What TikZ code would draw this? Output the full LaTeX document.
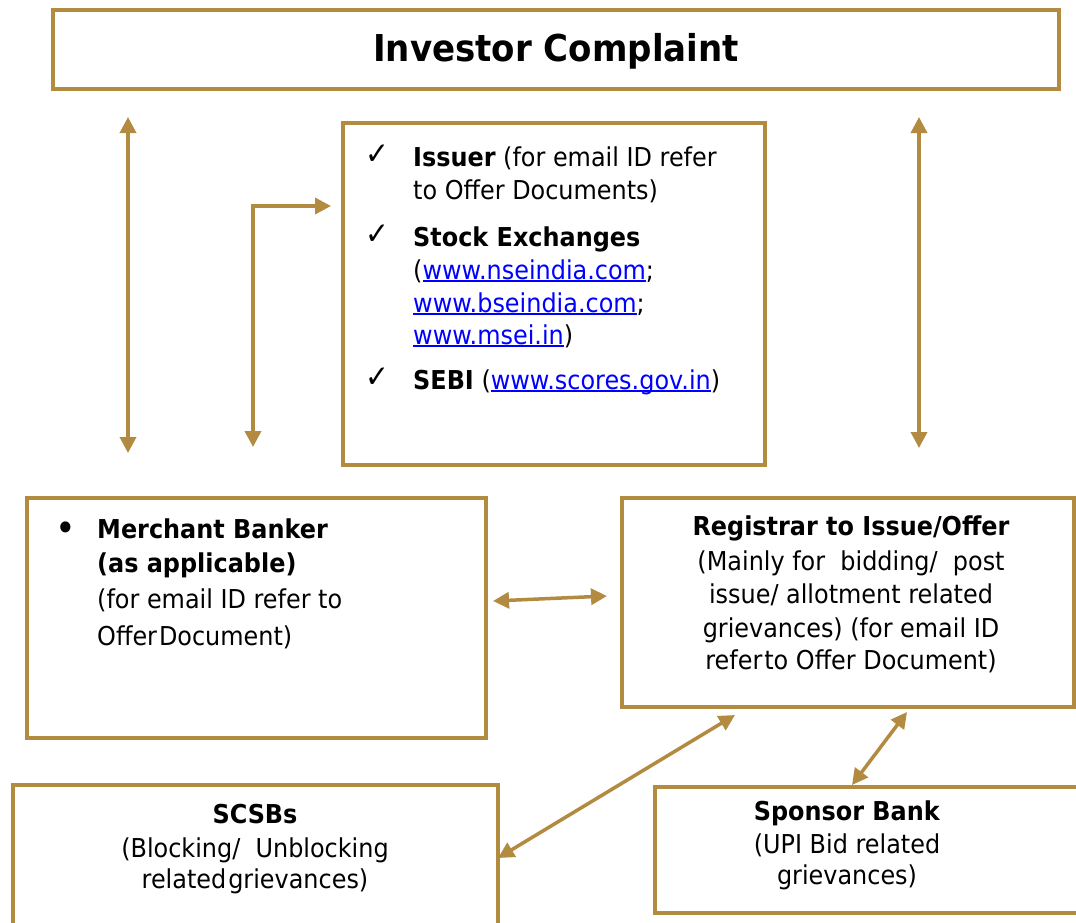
\documentclass[tikz,border=0pt]{standalone}
\usepackage{fontspec}
\setmainfont{DejaVu Sans}[FakeStretch=0.92]
\usetikzlibrary{arrows.meta}
\definecolor{gold}{RGB}{179,139,64}
\definecolor{linkblue}{RGB}{0,0,255}
\newcommand{\lnk}[1]{{\color{linkblue}\setbox0=\hbox{#1}\rlap{\rule[-2.6pt]{\wd0}{1.3pt}}\box0}}
\begin{document}
\begin{tikzpicture}[x=1pt,y=-1pt,
  box/.style={draw=gold,line width=4.5pt,inner sep=0pt,rectangle},
  conn/.style={draw=gold,line width=3.5pt,{Triangle[length=16pt,width=16pt]}-{Triangle[length=16pt,width=16pt]}},
  txt/.style={inner sep=0pt,font=\fontsize{26}{32}\selectfont},
  ltxt/.style={txt,anchor=base west},
  ctxt/.style={txt,anchor=base},
  ckmark/.style={inner sep=0pt,anchor=base west,font=\fontsize{31}{32}\selectfont\bfseries}]
\useasboundingbox (0,0) rectangle (1076,922);
\clip (0,0) rectangle (1076,922);
\fill[white] (0,0) rectangle (1076,922);

% boxes
\node[box,minimum width=1006pt,minimum height=79pt] (title) at (556,49.5) {};
\node[box,minimum width=422pt,minimum height=342pt] (issuer) at (554,294) {};
\node[box,minimum width=459pt,minimum height=240pt] (merchant) at (256.5,618) {};
\node[box,minimum width=452pt,minimum height=209pt] (registrar) at (848,602.5) {};
\node[box,minimum width=485pt,minimum height=155pt] (scsb) at (255.5,862.5) {};
\node[box,minimum width=435pt,minimum height=126pt] (sponsor) at (872.5,850) {};

% title
\node[inner sep=0pt,anchor=base,font=\fontsize{37}{44}\selectfont\bfseries] (titletext) at (556,61) {Investor Complaint};

% issuer box text
\node[ckmark] (ck1) at (365,164) {✓};
\node[ckmark] (ck2) at (365,244) {✓};
\node[ckmark] (ck3) at (365,387) {✓};
\node[ltxt] (iss1) at (413,166) {\textbf{Issuer} (for email ID refer};
\node[ltxt] (iss2) at (413,199) {to Offer Documents)};
\node[ltxt] (se1) at (413,246) {\textbf{Stock Exchanges}};
\node[ltxt] (se2) at (413,279) {(\lnk{www.nseindia.com};};
\node[ltxt] (se3) at (413,312) {\lnk{www.bseindia.com};};
\node[ltxt] (se4) at (413,344) {\lnk{www.msei.in})};
\node[ltxt] (sebi) at (413,389) {\textbf{SEBI} (\lnk{www.scores.gov.in})};

% merchant
\node[ltxt,font=\fontsize{38}{32}\selectfont] (bul) at (55,541) {•};
\node[ltxt] (mb1) at (97,538) {\textbf{Merchant Banker}};
\node[ltxt] (mb2) at (97,572) {\textbf{(as applicable)}};
\node[ltxt] (mb3) at (97,608) {(for email ID refer to};
\node[ltxt] (mb4) at (97,645) {Offer\kern2pt Document)};

% registrar
\node[ctxt] (rg1) at (851,535) {\textbf{Registrar to Issue/Offer}};
\node[ctxt] (rg2) at (851,570) {(Mainly for\ \ bidding/\ \ post};
\node[ctxt] (rg3) at (851,603) {issue/ allotment related};
\node[ctxt] (rg4) at (851,637) {grievances) (for email ID};
\node[ctxt] (rg5) at (851,669) {refer\kern2pt to Offer Document)};

% SCSBs
\node[ctxt] (sc1) at (255,823) {\textbf{SCSBs}};
\node[ctxt] (sc2) at (255,857) {(Blocking/\ \ Unblocking};
\node[ctxt] (sc3) at (255,888) {related\kern2pt grievances)};

% sponsor
\node[ctxt] (sp1) at (847,820) {\textbf{Sponsor Bank}};
\node[ctxt] (sp2) at (847,853) {(UPI Bid related};
\node[ctxt] (sp3) at (847,884) {grievances)};

% connector end points
\coordinate (a1t) at (128,117);
\coordinate (a1b) at (128,453);
\coordinate (a2r) at (331,206);
\coordinate (a2c) at (253,206);
\coordinate (a2b) at (253,447);
\coordinate (a3t) at (919,117);
\coordinate (a3b) at (919,448);
\coordinate (a4l) at (493,601);
\coordinate (a4r) at (607,596);
\coordinate (a5l) at (498,858);
\coordinate (a5r) at (735,715);
\coordinate (a6b) at (852,785);
\coordinate (a6t) at (907,712);

\draw[conn] (a1t) -- (a1b);
\draw[conn] (a2r) -- (a2c) -- (a2b);
\draw[conn] (a3t) -- (a3b);
\draw[conn] (a4l) -- (a4r);
\draw[conn] (a5l) -- (a5r);
\draw[conn] (a6b) -- (a6t);
\end{tikzpicture}
\end{document}
